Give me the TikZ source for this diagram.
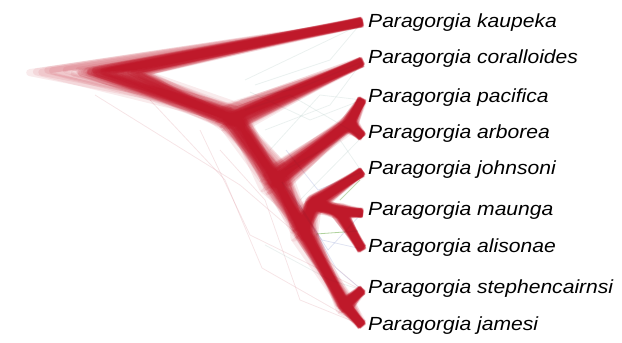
\documentclass[tikz,border=0pt]{standalone}
\usepackage{fontspec}
\setmainfont{Liberation Sans}[FakeStretch=1.11]
\usetikzlibrary{calc}
\definecolor{treered}{RGB}{190,20,38}
\definecolor{altgrey}{RGB}{175,200,195}
\definecolor{altblue}{RGB}{130,145,205}
\definecolor{altgreen}{RGB}{80,155,40}
\definecolor{altpink}{RGB}{220,150,160}
\tikzset{
  taxon/.style={anchor=base west, inner sep=0pt, font=\fontsize{19}{19}\selectfont\itshape},
  sample/.style={draw=treered, line width=7pt, opacity=0.085, line join=round},
  altline/.style={line width=0.8pt, opacity=0.25, line join=round},
}
\begin{document}
\begin{tikzpicture}[x=1pt,y=-1pt]
\useasboundingbox (0,0) rectangle (622,343);

% mean positions of the internal nodes
\coordinate (R) at (118,72);
\coordinate (A) at (233,117);
\coordinate (B) at (275,180);
\coordinate (C) at (349,124);
\coordinate (D) at (303,228);
\coordinate (E) at (313,204);
\coordinate (F) at (339,211);
\coordinate (G) at (345,305);

% tips
\coordinate (T1) at (362,22);
\coordinate (T2) at (362,62);
\coordinate (T3) at (362,100);
\coordinate (T4) at (362,136);
\coordinate (T5) at (362,172);
\coordinate (T6) at (362,213);
\coordinate (T7) at (362,249);
\coordinate (T8) at (362,290);
\coordinate (T9) at (362,325);

% faint trees with other topologies
\draw[altline, altgrey] (245,80) -- (362,24);
\draw[altline, altgrey] (240,100) -- (300,88) -- (362,62);
\draw[altline, altgrey] (250,92) -- (310,120) -- (362,100);
\draw[altline, altgrey] (245,110) -- (290,95) -- (362,137);
\draw[altline, altgrey] (265,130) -- (330,105) -- (362,62);
\draw[altline, altgrey] (270,150) -- (320,95) -- (362,100);
\draw[altline, altgrey] (285,170) -- (340,140) -- (362,172);
\draw[altline, altgrey] (300,200) -- (362,137);
\draw[altline, altgrey] (255,85) -- (330,60) -- (362,22);
\draw[altline, altpink] (95,95) -- (240,185) -- (362,290);
\draw[altline, altpink] (150,100) -- (225,180) -- (262,268) -- (362,325);
\draw[altline, altpink] (200,130) -- (250,235) -- (362,290);
\draw[altline, altpink] (220,150) -- (265,200) -- (300,300) -- (362,325);
\draw[altline, altgrey] (265,245) -- (330,280) -- (362,290);
\draw[altline, altblue] (282,182) -- (322,240) -- (362,249);
\draw[altline, altblue] (290,190) -- (328,250) -- (362,213);
\draw[altline, altblue] (300,205) -- (336,268) -- (362,290);
\draw[altline, altblue] (286,150) -- (318,190) -- (362,172);
\draw[altline, altgreen, opacity=0.45] (316,234) -- (358,231);
\draw[altline, altgreen, opacity=0.35] (340,200) -- (360,180);

% the posterior sample of trees
\pgfmathsetseed{4242}
\foreach \k in {1,...,90}{
  \coordinate (r) at ($(R)+({-68*rnd^6+28*rand},{2*rand})$);
  \coordinate (a) at ($(A)+({9*(rand+rand)},{6*(rand+rand)})$);
  \coordinate (b) at ($(B)+({8*(rand+rand)},{7*(rand+rand)})$);
  \coordinate (c) at ($(C)+({4*(rand+rand)},{3*(rand+rand)})$);
  \coordinate (d) at ($(D)+({7*(rand+rand)},{7*(rand+rand)})$);
  \coordinate (e) at ($(E)+({5*(rand+rand)},{4*(rand+rand)})$);
  \coordinate (f) at ($(F)+({4*(rand+rand)},{3*(rand+rand)})$);
  \coordinate (g) at ($(G)+({4*(rand+rand)},{3*(rand+rand)})$);
  \coordinate (t1) at ($(T1)+({1.5*rand},{2*rand})$);
  \coordinate (t2) at ($(T2)+({1.5*rand},{2*rand})$);
  \coordinate (t3) at ($(T3)+({1.5*rand},{2*rand})$);
  \coordinate (t4) at ($(T4)+({1.5*rand},{2*rand})$);
  \coordinate (t5) at ($(T5)+({1.5*rand},{2*rand})$);
  \coordinate (t6) at ($(T6)+({1.5*rand},{2*rand})$);
  \coordinate (t7) at ($(T7)+({1.5*rand},{2*rand})$);
  \coordinate (t8) at ($(T8)+({1.5*rand},{2*rand})$);
  \coordinate (t9) at ($(T9)+({1.5*rand},{2*rand})$);
  \path[sample] (t1) -- (r) -- (a) -- (t2);
  \path[sample] (a) -- (b) -- (c) -- (t3);
  \path[sample] (c) -- (t4);
  \path[sample] (b) -- (d) -- (e) -- (t5);
  \path[sample] (e) -- (f) -- (t6);
  \path[sample] (f) -- (t7);
  \path[sample] (d) -- (g) -- (t8);
  \path[sample] (g) -- (t9);
}

% taxon labels
\node[taxon] (n1) at (368,27)  {Paragorgia kaupeka};
\node[taxon] (n2) at (368,63)  {Paragorgia coralloides};
\node[taxon] (n3) at (368,102) {Paragorgia pacifica};
\node[taxon] (n4) at (368,138) {Paragorgia arborea};
\node[taxon] (n5) at (368,174) {Paragorgia johnsoni};
\node[taxon] (n6) at (368,215) {Paragorgia maunga};
\node[taxon] (n7) at (368,252) {Paragorgia alisonae};
\node[taxon] (n8) at (368,293) {Paragorgia stephencairnsi};
\node[taxon] (n9) at (368,330) {Paragorgia jamesi};
\end{tikzpicture}
\end{document}
